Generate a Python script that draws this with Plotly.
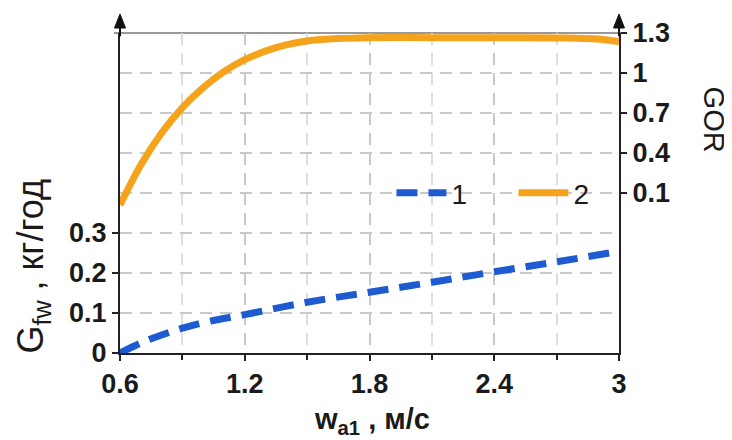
import plotly.graph_objects as go

# ---- data ----
x_ticks = [0.6, 1.2, 1.8, 2.4, 3.0]
x_ticklabels = ["0.6", "1.2", "1.8", "2.4", "3"]
left_ticks = [0.0, 0.1, 0.2, 0.3]
left_ticklabels = ["0", "0.1", "0.2", "0.3"]
right_ticks = [0.1, 0.4, 0.7, 1.0, 1.3]
right_ticklabels = ["0.1", "0.4", "0.7", "1", "1.3"]

w_a1_blue = [0.6, 0.7, 0.8, 0.9, 1.0, 1.2, 1.5, 1.8, 2.1, 2.4, 2.7, 3.0]
g_fw = [0.0, 0.025, 0.045, 0.062, 0.076, 0.096, 0.127, 0.152, 0.177, 0.203, 0.228, 0.254]

w_a1_orange = [0.6, 0.7, 0.8, 0.9, 1.0, 1.1, 1.2, 1.35, 1.5, 1.65, 1.8, 2.1, 2.4, 2.7, 2.9, 3.0]
gor = [0.01, 0.31, 0.55, 0.74, 0.89, 1.01, 1.10, 1.19, 1.24, 1.258, 1.265, 1.265, 1.264, 1.263, 1.255, 1.235]

series_names = ["1", "2"]

FONT = "Liberation Sans, Arial, sans-serif"
INK = "#1a1a1a"
GRID = "#c9c9c9"

fig = go.Figure()
fig.add_trace(go.Scatter(
    x=w_a1_blue, y=g_fw, name=series_names[0], mode="lines",
    line=dict(color="#1f5bd0", width=7, dash="21px,11px", shape="spline"),
))
fig.add_trace(go.Scatter(
    x=w_a1_orange, y=gor, name=series_names[1], mode="lines", yaxis="y2",
    line=dict(color="#f5a31a", width=7, shape="spline"),
))

tickfont = dict(family=FONT, size=27, color=INK, weight="bold")

# page body has an 8px margin, so figure is 8px smaller and margins shifted
PW, PH = 499.0, 320.0
hw = 5.5 / PW   # arrow half-width in paper units
ah = 14 / PH    # arrow height in paper units
ytop = 1.0 + 5 / PH
ytip = ytop + ah

fig.update_layout(
    width=724, height=432,
    margin=dict(l=112, r=113, t=25, b=87),
    paper_bgcolor="white", plot_bgcolor="white",
    showlegend=True,
    legend=dict(orientation="h", x=0.544, y=0.5, xanchor="left", yanchor="middle",
                bgcolor="rgba(0,0,0,0)", font=dict(family=FONT, size=28, color=INK),
                itemwidth=50, entrywidth=57),
    xaxis=dict(
        range=[0.6, 3.0], tickvals=x_ticks, ticktext=x_ticklabels,
        showline=True, linecolor="#222", linewidth=2,
        ticks="outside", ticklen=6, tickwidth=2, tickcolor="#222",
        showgrid=True, gridcolor=GRID, griddash="12px,8px", gridwidth=1.5,
        minor=dict(tick0=0.6, dtick=0.3, showgrid=True, gridcolor="#dddddd",
                   griddash="12px,8px", gridwidth=1.5, ticks="outside", ticklen=5,
                   tickcolor="#222", tickwidth=1.5),
        zeroline=False, tickfont=tickfont, automargin=False,
    ),
    yaxis=dict(
        range=[0, 0.8], tickvals=left_ticks, ticktext=left_ticklabels,
        showline=True, linecolor="#222", linewidth=2,
        ticks="outside", ticklen=6, tickwidth=2, tickcolor="#222",
        showgrid=True, gridcolor=GRID, griddash="12px,8px", gridwidth=1.5,
        minor=dict(tick0=0, dtick=0.1, showgrid=True, gridcolor=GRID,
                   griddash="12px,8px", gridwidth=1.5, ticks=""),
        zeroline=False, tickfont=tickfont, automargin=False,
    ),
    yaxis2=dict(
        range=[-1.1, 1.3], tickvals=right_ticks, ticktext=right_ticklabels,
        overlaying="y", side="right", anchor="x",
        showline=True, linecolor="#222", linewidth=2,
        ticks="outside", ticklen=6, tickwidth=2, tickcolor="#222",
        showgrid=False, zeroline=False, tickfont=tickfont, automargin=False,
    ),
    shapes=[
        dict(type="line", xref="paper", yref="paper", x0=-0.012, x1=1.008,
             y0=1, y1=1, line=dict(color="#999999", width=2), layer="below"),
        # axis extensions with arrowheads
        dict(type="line", xref="paper", yref="paper", x0=0, x1=0, y0=0.99, y1=ytop,
             line=dict(color="#111", width=2)),
        dict(type="line", xref="paper", yref="paper", x0=1, x1=1, y0=0.99, y1=ytop,
             line=dict(color="#111", width=2)),
        dict(type="path", xref="paper", yref="paper",
             path=f"M{-hw},{ytop} L{hw},{ytop} L0,{ytip} Z",
             fillcolor="#111", line=dict(color="#111", width=1)),
        dict(type="path", xref="paper", yref="paper",
             path=f"M{1-hw},{ytop} L{1+hw},{ytop} L1,{ytip} Z",
             fillcolor="#111", line=dict(color="#111", width=1)),
    ],
    annotations=[
        dict(xref="paper", yref="paper", x=-112 / PW, y=0.27, xanchor="left", yanchor="middle",
             text="G<sub>fw</sub> , кг/год", textangle=-90, showarrow=False,
             font=dict(family=FONT, size=36, color=INK)),
        dict(xref="paper", yref="paper", x=1.19, y=0.73, xanchor="center", yanchor="middle",
             text="GOR", textangle=90, showarrow=False,
             font=dict(family=FONT, size=29, color=INK)),
        dict(xref="paper", yref="paper", x=0.506, y=-0.213, xanchor="center", yanchor="middle",
             text="<b>w<sub>a1</sub> , м/с</b>", showarrow=False,
             font=dict(family=FONT, size=29, color=INK)),
    ],
)

fig.write_html("out.html")
